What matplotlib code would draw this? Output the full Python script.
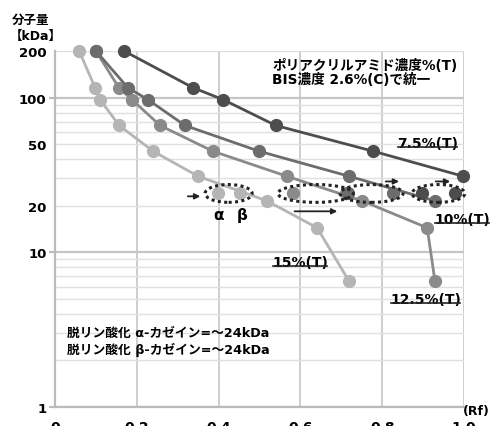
import numpy as np
import matplotlib
matplotlib.use('Agg')
import matplotlib.pyplot as plt
from matplotlib.patches import Ellipse
from matplotlib.lines import Line2D
from matplotlib.transforms import blended_transform_factory, IdentityTransform
from matplotlib.ticker import FixedLocator, FuncFormatter

plt.rcParams['font.family'] = ['DejaVu Sans', 'Noto Sans CJK JP']
plt.rcParams['font.weight'] = 'bold'

mw = [200, 116, 97, 66, 45, 31, 21.5, 14.4, 6.5]
rf_75 = [0.169, 0.337, 0.411, 0.540, 0.778, 0.998]
rf_10 = [0.100, 0.178, 0.227, 0.318, 0.499, 0.719, 0.929]
rf_125 = [0.100, 0.156, 0.188, 0.257, 0.386, 0.567, 0.751, 0.910, 0.929]
rf_15 = [0.059, 0.098, 0.110, 0.157, 0.240, 0.350, 0.518, 0.641, 0.719]

# dephosphorylated alpha / beta casein (~24 kDa)
casein_kda = 24
casein_15 = [0.399, 0.452]
casein_125 = [0.582, 0.712]
casein_10 = [0.716, 0.826]
casein_75 = [0.897, 0.978]
ellipse_rf = [(0.367, 0.482), (0.545, 0.729), (0.697, 0.851), (0.873, 1.002)]

c75, c10, c125, c15 = '#4d4d4d', '#6c6c6c', '#8a8a8a', '#b5b5b5'

fig = plt.figure(figsize=(4.95, 4.27), dpi=100)
ax = fig.add_axes([55/495, 19/427, 409/495, 356/427])
ax.set_yscale('log')
ax.set_xlim(0, 1.0)
ax.set_ylim(1, 200)

ms = 8.5
lw = 2.0
ax.plot(rf_15, mw[:len(rf_15)], 'o-', color=c15, ms=ms, lw=lw, clip_on=False, zorder=3)
ax.plot(rf_125, mw[:len(rf_125)], 'o-', color=c125, ms=ms, lw=lw, clip_on=False, zorder=3)
ax.plot(rf_10, mw[:len(rf_10)], 'o-', color=c10, ms=ms, lw=lw, clip_on=False, zorder=3)
ax.plot(rf_75, mw[:len(rf_75)], 'o-', color=c75, ms=ms, lw=lw, clip_on=False, zorder=3)

ax.plot(casein_15, [casein_kda]*2, 'o', color=c15, ms=ms, zorder=4)
ax.plot(casein_125, [casein_kda]*2, 'o', color=c125, ms=ms, zorder=4)
ax.plot(casein_10, [casein_kda]*2, 'o', color=c10, ms=ms, zorder=4)
ax.plot(casein_75, [casein_kda]*2, 'o', color=c75, ms=ms, clip_on=False, zorder=4)

# dotted ellipses round the casein bands
trans = blended_transform_factory(ax.transData, ax.transAxes)
yc = np.log10(casein_kda) / np.log10(200)
for a, b in ellipse_rf:
    e = Ellipse(((a + b) / 2, yc), b - a, 0.05, transform=trans, fill=False,
                ls=(0, (1, 1.1)), lw=2.2, ec='#222222', zorder=5, clip_on=False)
    ax.add_patch(e)

arr = dict(arrowstyle='-|>', color='#222222', lw=1.3, mutation_scale=8)
ax.annotate('', xy=(0.362, 23), xytext=(0.318, 23), arrowprops=arr)
ax.annotate('', xy=(0.697, 18.4), xytext=(0.579, 18.4), arrowprops=arr)
ax.annotate('', xy=(0.848, 28.7), xytext=(0.802, 28.7), arrowprops=arr)
ax.annotate('', xy=(0.973, 28.7), xytext=(0.924, 28.7), arrowprops=arr)

ax.text(0.399, 17.6, 'α', ha='center', va='center', fontsize=11, fontweight='bold')
ax.text(0.457, 17.6, 'β', ha='center', va='center', fontsize=11, fontweight='bold')

ax.text(0.531, 163, 'ポリアクリルアミド濃度%(T)', va='center', fontsize=9.8, fontweight='bold')
ax.text(0.531, 131, 'BIS濃度 2.6%(C)で統一', va='center', fontsize=9.8, fontweight='bold')
ax.text(0.029, 3.05, '脱リン酸化 α-カゼイン=～24kDa', va='center', fontsize=9.2, fontweight='bold')
ax.text(0.029, 2.37, '脱リン酸化 β-カゼイン=～24kDa', va='center', fontsize=9.2, fontweight='bold')

labels = [
    ax.text(0.836, 51, '7.5%(T)', va='center', fontsize=10, fontweight='bold'),
    ax.text(0.927, 16.3, '10%(T)', va='center', fontsize=10, fontweight='bold', clip_on=False),
    ax.text(0.531, 8.6, '15%(T)', va='center', fontsize=10, fontweight='bold'),
    ax.text(0.819, 4.97, '12.5%(T)', va='center', fontsize=10, fontweight='bold'),
]

# axes styling
ax.set_xticks([0, 0.2, 0.4, 0.6, 0.8, 1.0])
ax.set_xticklabels(['0', '0.2', '0.4', '0.6', '0.8', '1.0'], fontsize=10, fontweight='bold')
ax.tick_params(axis='x', length=0, pad=9.5)
ax.yaxis.set_major_locator(FixedLocator([1, 10, 100]))
ax.yaxis.set_minor_locator(FixedLocator([2, 3, 4, 5, 6, 7, 8, 9, 20, 30, 40, 50, 60, 70, 80, 90, 200]))
ax.yaxis.set_major_formatter(FuncFormatter(lambda v, p: '%d' % v))
ax.yaxis.set_minor_formatter(FuncFormatter(lambda v, p: '%d' % v if v in (20, 50, 200) else ''))
ax.tick_params(axis='y', which='major', length=4, width=1.5, color='#bbbbbb', pad=2, labelsize=9.5)
ax.tick_params(axis='y', which='minor', length=0, pad=6, labelsize=9.5)
for t in ax.get_yticklabels(which='both'):
    t.set_fontweight('bold')

ax.grid(which='major', axis='y', color='#c6c6c6', lw=1.6)
ax.grid(which='minor', axis='y', color='#e0e0e0', lw=1.0)
ax.grid(which='major', axis='x', color='#cacaca', lw=1.3)
ax.set_axisbelow(True)
for s in ['top', 'right']:
    ax.spines[s].set_visible(False)
for s in ['left', 'bottom']:
    ax.spines[s].set_color('#bbbbbb')
    ax.spines[s].set_linewidth(1.6)

fig.text(12/495, 1 - 20/427, '分子量', va='center', fontsize=9, fontweight='bold')
fig.text(10/495, 1 - 36/427, '【kDa】', va='center', fontsize=9, fontweight='bold')
fig.text(463/495, 15/427, '(Rf)', va='center', fontsize=9, fontweight='bold')

# underline the gel labels
fig.canvas.draw()
for t in labels:
    bb = t.get_window_extent()
    fig.add_artist(Line2D([bb.x0 + 1, bb.x1 - 1], [bb.y0 + 3, bb.y0 + 3], transform=IdentityTransform(),
                          color='#222222', lw=1.2))

fig.savefig('out.png', dpi=100)
